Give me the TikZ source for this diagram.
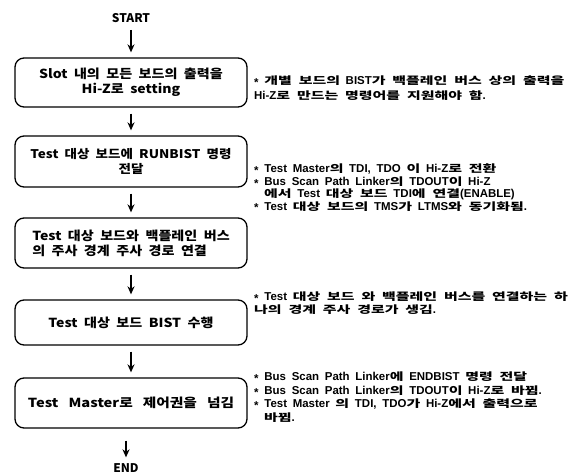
\documentclass[tikz,border=0pt]{standalone}
\usepackage{fontspec}
\setmainfont{Noto Sans CJK KR}
\newfontfamily\boxfont{Noto Sans CJK KR}[FakeStretch=1.13, WordSpace=2]
\newfontfamily\boxfontw{Noto Sans CJK KR}[FakeStretch=1.18, WordSpace=3]
\newfontfamily\annlat{Liberation Sans}[WordSpace=1.8]
\newfontfamily\kfont{Noto Sans CJK KR}[Scale=0.9, FakeStretch=1.45, WordSpace=2]
\newcommand{\K}[1]{{\kfont #1}}
\usetikzlibrary{arrows.meta}
\newcommand{\bul}{\raisebox{-0.3ex}{*}\ }
\begin{document}
\begin{tikzpicture}[x=1bp,y=-1bp,
  box/.style={draw, line width=1.3bp, rounded corners=9bp, minimum width=232bp, align=center,
    font=\boxfont\fontsize{12.5}{15}\selectfont\bfseries, inner sep=0pt},
  arr/.style={line width=1.6bp, -{Stealth[length=8bp,width=7bp]}, shorten <=6bp, shorten >=5bp},
  ann/.style={anchor=north west, align=left, inner sep=0pt},
  term/.style={font=\fontsize{12}{14}\selectfont\bfseries, inner sep=1bp}]
\useasboundingbox[fill=white] (0,0) rectangle (587,475);

\node[term] (start) at (131,18) {START};
\node[box, minimum height=49bp] (b1) at (131,82.5) {Slot 내의 모든 보드의 출력을\\Hi-Z로 setting};
\node[box, minimum height=51bp, font=\boxfont\fontsize{12}{15}\selectfont\bfseries] (b2) at (131,161.5) {Test 대상 보드에 RUNBIST 명령\\전달};
\node[box, minimum height=50bp, align=left] (b3) at (131,243) {Test 대상 보드와 백플레인 버스\\ 의 주사 경계 주사 경로 연결};
\node[box, minimum height=45bp] (b4) at (131,322.5) {Test 대상 보드 BIST 수행};
\node[box, minimum height=50bp, font=\boxfontw\fontsize{12.5}{15}\selectfont\bfseries] (b5) at (131,403) {Test Master로 제어권을 넘김};
\node[term] (end) at (126,468) {END};

\draw[arr] (start) -- (b1);
\draw[arr] (b1) -- (b2);
\draw[arr] (b2) -- (b3);
\draw[arr] (b3) -- (b4);
\draw[arr] (b4) -- (b5);
\draw[arr, shorten <=12bp] (b5.south -| end.north) -- (end.north);

\node[ann, font=\annlat\fontsize{11.5}{14.5}\selectfont\bfseries] (a1) at (254,76)
  {\bul \K{개별 보드의} BIST\K{가 백플레인 버스 상의 출력을}\\Hi-Z\K{로 만드는 명령어를 지원해야 함}.};
\node[ann, font=\annlat\fontsize{11.5}{12.4}\selectfont\bfseries] (a2) at (254,164)
  {\bul Test Master\K{의} TDI, TDO \K{이} Hi-Z\K{로 전환}\\
   \bul Bus Scan Path Linker\K{의} TDOUT\K{이} Hi-Z\\
   \hspace*{10bp}\K{에서} Test \K{대상 보드} TDI\K{에 연결}(ENABLE)\\
   \bul Test \K{대상 보드의} TMS\K{가} LTMS\K{와 동기화됨}.};
\node[ann, font=\annlat\fontsize{11.5}{12.5}\selectfont\bfseries] (a4) at (254,292)
  {\bul Test \K{대상 보드 와 백플레인 버스를 연결하는 하}\\\K{나의 경계 주사 경로가 생김}.};
\node[ann, font=\annlat\fontsize{11.5}{13.5}\selectfont\bfseries] (a5) at (254,372)
  {\bul Bus Scan Path Linker\K{에} ENDBIST \K{명령 전달}\\
   \bul Bus Scan Path Linker\K{의} TDOUT\K{이} Hi-Z\K{로 바뀜}.\\
   \bul Test Master \K{의} TDI, TDO\K{가} Hi-Z\K{에서 출력으로}\\
   \hspace*{10bp}\K{바뀜}.};
\end{tikzpicture}
\end{document}
